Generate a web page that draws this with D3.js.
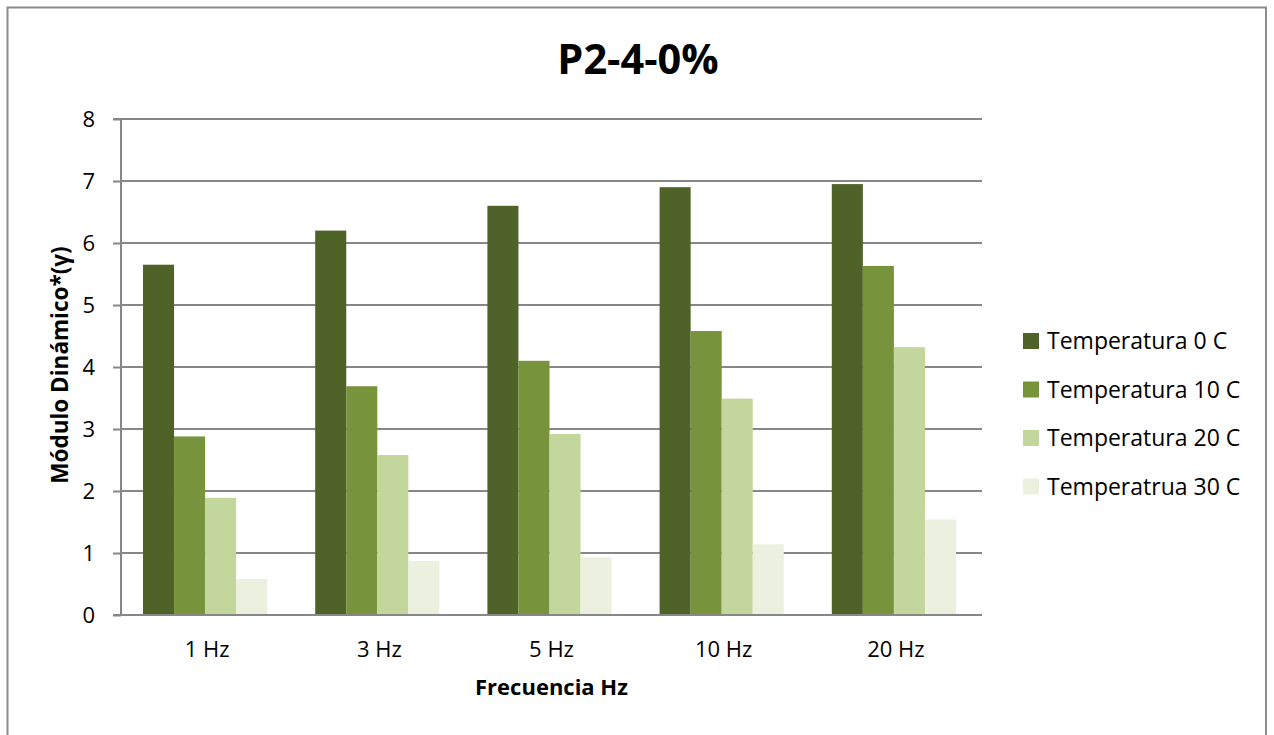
<!DOCTYPE html>
<html>
<head>
<meta charset="utf-8">
<script src="https://cdn.jsdelivr.net/npm/d3@7"></script>
<style>
  html, body { margin: 0; padding: 0; background: #fff; }
  svg { display: block; font-family: "Open Sans", sans-serif; }
</style>
</head>
<body>
<svg id="chart" width="1274" height="735"></svg>
<script>
const categories = ["1 Hz", "3 Hz", "5 Hz", "10 Hz", "20 Hz"];
const seriesNames = ["Temperatura 0 C", "Temperatura 10 C", "Temperatura 20 C", "Temperatrua 30 C"];
const temp0 = [5.65, 6.20, 6.60, 6.90, 6.95];
const temp10 = [2.88, 3.69, 4.10, 4.58, 5.63];
const temp20 = [1.89, 2.58, 2.92, 3.49, 4.32];
const temp30 = [0.58, 0.87, 0.93, 1.14, 1.54];
const yTicks = [0, 1, 2, 3, 4, 5, 6, 7, 8];
const colors = ["#4F6228", "#77933C", "#C3D69B", "#EBF1DE"];
const title = "P2-4-0%";
const xTitle = "Frecuencia Hz";
const yTitle = "Módulo Dinámico*(γ)";

const seriesValues = [temp0, temp10, temp20, temp30];

const svg = d3.select("#chart");
const plot = { left: 121, right: 982, top: 119, bottom: 615 };

// outer border
svg.append("rect")
  .attr("x", 7.5).attr("y", 7.5)
  .attr("width", 1266 - 7.5).attr("height", 740)
  .attr("fill", "none").attr("stroke", "#8c8c8c").attr("stroke-width", 2);

const x0 = d3.scaleBand().domain(categories).range([plot.left, plot.right]).paddingInner(0).paddingOuter(0);
const innerPad = 48 / 172.2;
const x1 = d3.scaleBand().domain(seriesNames)
  .range([x0.bandwidth() * innerPad / 2 - 2, x0.bandwidth() * (1 - innerPad / 2) - 2]);
const y = d3.scaleLinear().domain([0, 8]).range([plot.bottom, plot.top]);

// gridlines
svg.append("g").selectAll("line").data(yTicks.filter(d => d > 0)).join("line")
  .attr("x1", plot.left).attr("x2", plot.right)
  .attr("y1", d => y(d)).attr("y2", d => y(d))
  .attr("stroke", "#878787").attr("stroke-width", 2);

// bars
const groups = svg.append("g").selectAll("g").data(categories).join("g")
  .attr("transform", d => `translate(${x0(d)},0)`);
groups.selectAll("rect")
  .data((c, ci) => seriesNames.map((s, si) => ({ s, si, v: seriesValues[si][ci] })))
  .join("rect")
  .attr("x", d => x1(d.s))
  .attr("width", x1.bandwidth())
  .attr("y", d => y(d.v))
  .attr("height", d => y(0) - y(d.v))
  .attr("fill", d => colors[d.si]);

// y axis
const yAxis = d3.axisLeft(y).tickValues(yTicks).tickSize(8).tickPadding(18).tickFormat(d3.format("d"));
const gy = svg.append("g").attr("transform", `translate(${plot.left},0)`).call(yAxis);
gy.select(".domain").attr("stroke", "#878787").attr("stroke-width", 2).attr("d", `M-8,${plot.top}H0V${plot.bottom}H-8`);
gy.selectAll(".tick line").attr("stroke", "#878787").attr("stroke-width", 2);
gy.selectAll(".tick text").attr("font-size", 22).attr("font-family", "Open Sans").attr("fill", "#000");

// x axis
const xAxis = d3.axisBottom(x0).tickSize(0).tickPadding(26);
const gx = svg.append("g").attr("transform", `translate(0,${plot.bottom})`).call(xAxis);
gx.select(".domain").attr("stroke", "#878787").attr("stroke-width", 2).attr("d", `M${plot.left - 8},0H${plot.right}`);
gx.selectAll(".tick text").attr("font-size", 22).attr("font-family", "Open Sans").attr("fill", "#000");

// title
svg.append("text").attr("x", 638).attr("y", 74).attr("text-anchor", "middle")
  .attr("font-size", 41.5).attr("font-weight", "bold").attr("fill", "#000").text(title);

// axis titles
svg.append("text").attr("x", (plot.left + plot.right) / 2).attr("y", 695).attr("text-anchor", "middle")
  .attr("font-size", 22).attr("font-weight", "bold").attr("fill", "#000").text(xTitle);
svg.append("text").attr("transform", `translate(68,${(plot.top + plot.bottom) / 2 - 2}) rotate(-90)`)
  .attr("text-anchor", "middle")
  .attr("font-size", 22.5).attr("font-weight", "bold").attr("fill", "#000").text(yTitle);

// legend
const legend = svg.append("g").attr("transform", "translate(1023,333)");
const li = legend.selectAll("g").data(seriesNames).join("g")
  .attr("transform", (d, i) => `translate(0,${i * 48.5})`);
li.append("rect").attr("width", 16).attr("height", 16).attr("fill", (d, i) => colors[i]);
li.append("text").attr("x", 24).attr("y", 16).attr("font-size", 23).attr("fill", "#000").text(d => d);
</script>
</body>
</html>
